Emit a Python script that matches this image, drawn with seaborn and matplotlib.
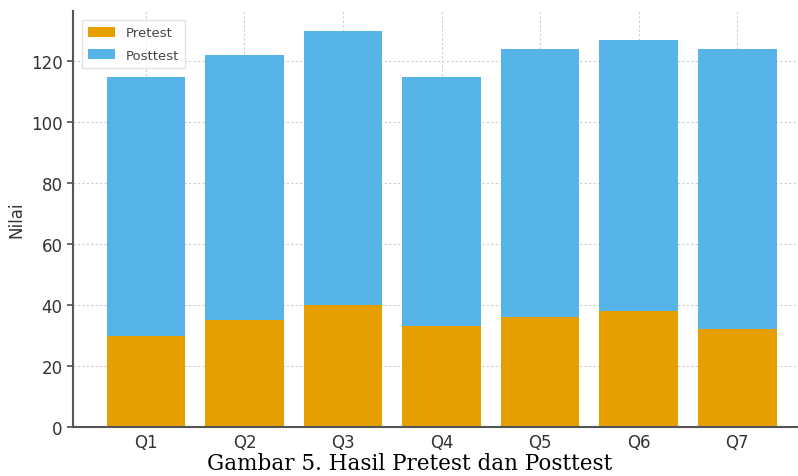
import matplotlib
matplotlib.use("Agg")
import matplotlib.pyplot as plt
import seaborn as sns
import numpy as np
import pandas as pd

categories = ["Q1", "Q2", "Q3", "Q4", "Q5", "Q6", "Q7"]
pretest = [30, 35, 40, 33, 36, 38, 32]
posttest = [85, 87, 90, 82, 88, 89, 92]
yticks = [0, 20, 40, 60, 80, 100, 120]

sns.set_theme(style="white")
plt.rcParams["font.family"] = ["DejaVu Sans"]

total = [a + b for a, b in zip(pretest, posttest)]
df = pd.DataFrame({"cat": categories, "pre": pretest, "post": posttest, "total": total})

fig = plt.figure(figsize=(7.98, 4.77), dpi=100)
ax = fig.add_axes([73 / 798, 49 / 477, 737 / 798, 416 / 477])

ORANGE = "#E69F00"
BLUE = "#56B4E9"

sns.barplot(data=df, x="cat", y="total", color=BLUE, saturation=1, width=0.8,
            ax=ax, label="Posttest", zorder=2, linewidth=0)
sns.barplot(data=df, x="cat", y="pre", color=ORANGE, saturation=1, width=0.8,
            ax=ax, label="Pretest", zorder=2, linewidth=0)

ax.set_xlim(-0.74, 6.74)
ax.set_ylim(0, 136.5)
ax.set_yticks(yticks)
ax.set_xlabel("")
ax.set_ylabel("Nilai", fontsize=12, color="#333333", labelpad=4)
ax.grid(True, linestyle=(0, (2, 2)), color="#cccccc", linewidth=0.8, zorder=0)
ax.set_axisbelow(True)
for s in ["top", "right"]:
    ax.spines[s].set_visible(False)
for s in ["left", "bottom"]:
    ax.spines[s].set_color("#555555")
    ax.spines[s].set_linewidth(1.5)
ax.tick_params(axis="y", direction="out", length=4, color="#555555",
               labelsize=12, labelcolor="#333333", left=True)
ax.tick_params(axis="x", direction="in", length=4, color="#555555",
               labelsize=12, labelcolor="#333333", bottom=True, pad=4)

handles, labels = ax.get_legend_handles_labels()
order = [labels.index("Pretest"), labels.index("Posttest")]
ax.legend([handles[i] for i in order], [labels[i] for i in order],
          loc="upper left", bbox_to_anchor=(0.003, 0.995), fontsize=9.5,
          frameon=True, edgecolor="#dddddd", fancybox=False,
          handlelength=2.0, handleheight=0.8, labelcolor="#444444",
          borderpad=0.5, labelspacing=0.7)

fig.text(410 / 798, 1 - 470 / 477, "Gambar 5. Hasil Pretest dan Posttest",
         family="DejaVu Serif", fontsize=15.5, color="black",
         ha="center", va="baseline")

fig.savefig("out.png", dpi=100)
